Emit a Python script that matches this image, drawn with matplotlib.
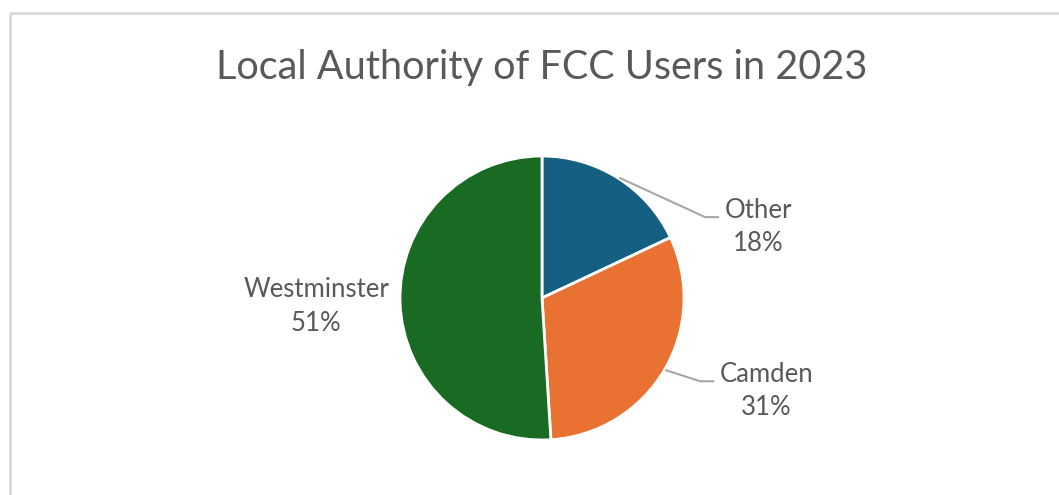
import numpy as np
import matplotlib.pyplot as plt
from matplotlib.patches import Rectangle

labels = ['Other', 'Camden', 'Westminster']
shares = [18, 31, 51]
colors = ['#156082', '#E97132', '#196B24']

W, H = 1059, 495
cx, cy, r = 542, 298, 142

plt.rcParams['font.family'] = ['Lato', 'DejaVu Sans']

fig = plt.figure(figsize=[W / 100, H / 100], dpi=100)
ax = fig.add_axes([0, 0, 1, 1])

# chart frame (only top/left visible in reference)
ax.add_patch(Rectangle((10, 13), W + 20, H + 20, fill=False, ec='#d9d9d9', lw=2))

ax.text(cx, 68, 'Local Authority of FCC Users in 2023', ha='center', va='center',
        fontsize=28.5, color='#595959')

# y axis inverted, so flip the direction flag to get clockwise wedges on screen
wedges, _ = ax.pie(shares, startangle=-90, counterclock=True, center=(cx, cy),
                   radius=r, colors=colors, frame=True,
                   wedgeprops=dict(edgecolor='white', linewidth=2))
ax.set_xlim(0, W)
ax.set_ylim(H, 0)
ax.set_aspect('auto')
ax.axis('off')

# label placement, angles measured clockwise from 12 o'clock on screen
cum = np.cumsum([0] + shares[:-1])
for lab, s, c0 in zip(labels, shares, cum):
    mid = np.deg2rad(90 - (c0 + s / 2) * 3.6)
    ex, ey = cx + r * np.cos(mid), cy - r * np.sin(mid)
    txt = '%s\n%d%%' % (lab, s)
    if lab == 'Westminster':
        ax.text(ex - 84, ey + 4, txt, ha='center', va='center', fontsize=18.5,
                color='#595959', linespacing=1.42)
        continue
    if lab == 'Other':
        kx, ky, tx = ex + 87, ey + 39, 53
    else:
        kx, ky, tx = ex + 36, ey + 11, 66
    ax.plot([ex + 2, kx, kx + 13], [ey, ky, ky], color='#a6a6a6', lw=1.5)
    ax.text(kx + tx, ky + 10, txt, ha='center', va='center', fontsize=18.5,
            color='#595959', linespacing=1.42)

plt.savefig('out.png', dpi=100)
